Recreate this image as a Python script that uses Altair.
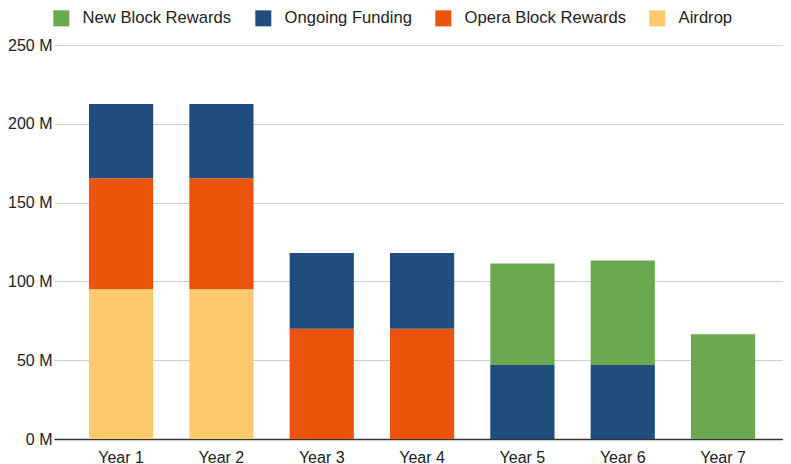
import altair as alt
import pandas as pd

years = ["Year 1", "Year 2", "Year 3", "Year 4", "Year 5", "Year 6", "Year 7"]
series = ["New Block Rewards", "Ongoing Funding", "Opera Block Rewards", "Airdrop"]
colors = ["#6aa84f", "#1f4e7e", "#ec530b", "#ffca6b"]
stack_order = {"Airdrop": 0, "Opera Block Rewards": 1, "Ongoing Funding": 2, "New Block Rewards": 3}

airdrop = [95, 95, 0, 0, 0, 0, 0]
opera = [70.5, 70.5, 70, 70, 0, 0, 0]
ongoing = [47, 47, 48, 48, 47, 47, 0]
new_block = [0, 0, 0, 0, 64.3, 66.2, 66.5]

values = {
    "Airdrop": airdrop,
    "Opera Block Rewards": opera,
    "Ongoing Funding": ongoing,
    "New Block Rewards": new_block,
}

rows = []
for s, vals in values.items():
    for y, v in zip(years, vals):
        if v > 0:
            rows.append({"year": y, "series": s, "value": v, "ord": stack_order[s]})
df = pd.DataFrame(rows)

font = "Liberation Sans"

chart = alt.Chart(df).mark_bar().encode(
    x=alt.X("year:N", sort=years,
            scale=alt.Scale(paddingInner=0.36, paddingOuter=0.313, align=0.557),
            axis=alt.Axis(title=None, labelAngle=0, ticks=False, domain=True,
                          domainColor="#333333", domainWidth=1.5,
                          labelPadding=10, labelFontSize=16, labelColor="#222222",
                          labelFont=font)),
    y=alt.Y("value:Q", stack="zero",
            scale=alt.Scale(domain=[0, 250], nice=False),
            axis=alt.Axis(title=None, values=[0, 50, 100, 150, 200, 250],
                          labelExpr="datum.value + ' M'",
                          grid=True, gridColor="#cccccc", domain=False, ticks=False,
                          labelPadding=2, labelFontSize=16, labelColor="#222222",
                          labelFont=font)),
    color=alt.Color("series:N",
                    scale=alt.Scale(domain=series, range=colors),
                    legend=alt.Legend(title=None, orient="none", legendX=-1, legendY=-35,
                                      direction="horizontal", columns=4,
                                      symbolType="square", symbolSize=256,
                                      symbolStrokeWidth=0, labelFontSize=16.6,
                                      labelFont=font, labelColor="#222222",
                                      labelLimit=400,
                                      labelOffset=13, columnPadding=23, padding=0)),
    order=alt.Order("ord:Q", sort="ascending"),
).properties(
    width=729, height=394,
    padding={"left": 46, "top": 37, "right": 0, "bottom": 26},
    autosize=alt.AutoSizeParams(type="none"),
).configure_view(stroke=None)

chart.save("out.html", embed_options={"renderer": "svg", "actions": False})
